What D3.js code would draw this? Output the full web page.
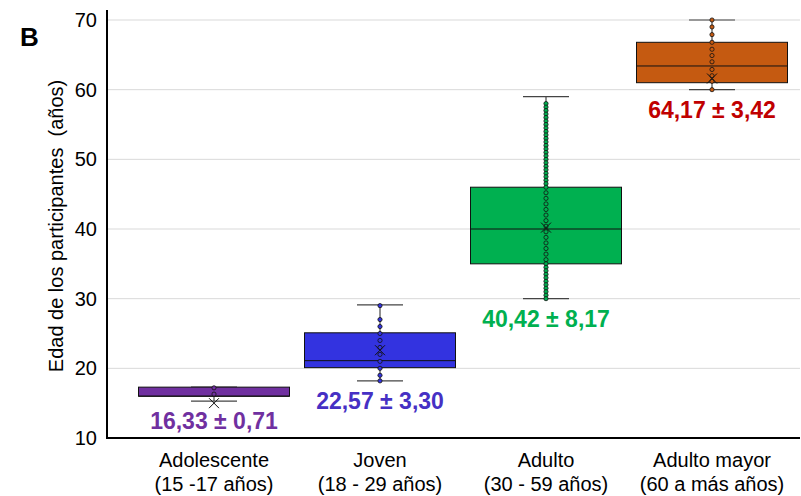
<!DOCTYPE html>
<html>
<head>
<meta charset="utf-8">
<script src="https://cdn.jsdelivr.net/npm/d3@7"></script>
<style>
  body { margin: 0; background: #fff; }
  text { font-family: "Liberation Sans", Arial, sans-serif; }
</style>
</head>
<body>
<div id="chart"></div>
<script>
// categories and box statistics
const categories = ["Adolescente", "Joven", "Adulto", "Adulto mayor"];
const ageRanges = ["(15 -17 años)", "(18 - 29 años)", "(30 - 59 años)", "(60 a más años)"];
const boxColors = ["#7030a0", "#3333e0", "#00b050", "#c55a11"];
const labelColors = ["#7030a0", "#4630c4", "#00b050", "#c00000"];
const q1 = [16, 20.1, 35, 61];
const medians = [16, 21.1, 40, 63.4];
const q3 = [17.3, 25.1, 46, 66.8];
const whiskerLow = [15.3, 18.2, 30, 60];
const whiskerHigh = [17.3, 29.1, 59, 70];
const meanMarks = [15, 22.6, 40.2, 61.6];
const meanLabels = ["16,33 ± 0,71", "22,57 ± 3,30", "40,42 ± 8,17", "64,17 ± 3,42"];
const points = [
    [17.2, 16.3],
    [29, 27, 26, 25, 24, 23, 22, 21, 20, 19, 18.2],
    [58, 57.5, 57, 56.5, 56, 55.5, 55, 54.5, 54, 53.5, 53, 52.5, 52, 51.5, 51, 50.5,
     50, 49.5, 49, 48.5, 48, 47.5, 47, 46.5, 46, 45.2, 44.4, 43.6, 42.8, 42, 41.2, 40.4,
     39.6, 38.8, 38, 37.2, 36.4, 35.6, 35, 34.5, 34, 33.5, 33, 32.5, 32, 31.5, 31, 30.5, 30],
    [70, 69, 67.9, 66.8, 65.8, 64.9, 64, 62.9, 62, 61.2, 60]
];
const yTicks = [10, 20, 30, 40, 50, 60, 70];

const chartW = 801, chartH = 496;
const plot = {left: 107, right: 800, top: 10, bottom: 438};
const boxWidth = 151, capWidth = 46;

const svg = d3.select("#chart")
    .append("svg")
    .attr("width", chartW)
    .attr("height", chartH);

const x = d3.scalePoint()
    .domain(categories)
    .range([131, 795])
    .padding(0.5);

const y = d3.scaleLinear()
    .domain([10, 70])
    .range([plot.bottom, 20]);

// gridlines
svg.append("g")
    .selectAll("line")
    .data(yTicks.filter(d => d > 10))
    .enter().append("line")
    .attr("x1", plot.left).attr("x2", plot.right)
    .attr("y1", d => y(d)).attr("y2", d => y(d))
    .attr("stroke", "#d9d9d9")
    .attr("stroke-width", 1);

// y axis
const yAxis = svg.append("g")
    .attr("transform", `translate(${plot.left},0)`)
    .call(d3.axisLeft(y).tickValues(yTicks).tickSize(0).tickPadding(10));
yAxis.select(".domain").remove();
yAxis.selectAll("text")
    .style("font-size", "20px")
    .style("font-family", "'Liberation Sans', Arial, sans-serif")
    .attr("fill", "#000");

svg.append("line")
    .attr("x1", plot.left).attr("x2", plot.left)
    .attr("y1", plot.top).attr("y2", plot.bottom + 1)
    .attr("stroke", "#000").attr("stroke-width", 2);
svg.append("line")
    .attr("x1", plot.left - 1).attr("x2", plot.right)
    .attr("y1", plot.bottom).attr("y2", plot.bottom)
    .attr("stroke", "#000").attr("stroke-width", 2);

// y title
svg.append("text")
    .attr("transform", `translate(56,${(75 + 377) / 2}) rotate(-90)`)
    .attr("text-anchor", "middle")
    .attr("dy", "0.35em")
    .style("font-size", "20px")
    .style("white-space", "pre")
    .text("Edad de los participantes  (años)");

// panel letter
svg.append("text")
    .attr("x", 20).attr("y", 46)
    .style("font-size", "26px")
    .style("font-weight", "bold")
    .text("B");

// x labels
categories.forEach(function (c, i) {
    svg.append("text")
        .attr("x", x(c)).attr("y", 467)
        .attr("text-anchor", "middle")
        .style("font-size", "20px")
        .text(c);
    svg.append("text")
        .attr("x", x(c)).attr("y", 491)
        .attr("text-anchor", "middle")
        .style("font-size", "20px")
        .text(ageRanges[i]);
});

// boxes
const groups = svg.selectAll("g.box")
    .data(categories)
    .enter().append("g")
    .attr("class", "box");

groups.append("line")
    .attr("x1", d => x(d)).attr("x2", d => x(d))
    .attr("y1", (d, i) => y(whiskerHigh[i])).attr("y2", (d, i) => y(q3[i]))
    .attr("stroke", "#222").attr("stroke-width", 1);
groups.append("line")
    .attr("x1", d => x(d)).attr("x2", d => x(d))
    .attr("y1", (d, i) => y(whiskerLow[i])).attr("y2", (d, i) => y(q1[i]))
    .attr("stroke", "#222").attr("stroke-width", 1);
groups.append("line")
    .attr("x1", d => x(d) - capWidth / 2).attr("x2", d => x(d) + capWidth / 2)
    .attr("y1", (d, i) => y(whiskerHigh[i])).attr("y2", (d, i) => y(whiskerHigh[i]))
    .attr("stroke", "#444").attr("stroke-width", 1.2);
groups.append("line")
    .attr("x1", d => x(d) - capWidth / 2).attr("x2", d => x(d) + capWidth / 2)
    .attr("y1", (d, i) => y(whiskerLow[i])).attr("y2", (d, i) => y(whiskerLow[i]))
    .attr("stroke", "#444").attr("stroke-width", 1.2);

groups.append("rect")
    .attr("x", d => x(d) - boxWidth / 2)
    .attr("width", boxWidth)
    .attr("y", (d, i) => y(q3[i]))
    .attr("height", (d, i) => y(q1[i]) - y(q3[i]))
    .attr("fill", (d, i) => boxColors[i])
    .attr("stroke", "#111").attr("stroke-width", 1);

groups.append("line")
    .attr("x1", d => x(d) - boxWidth / 2).attr("x2", d => x(d) + boxWidth / 2)
    .attr("y1", (d, i) => y(medians[i])).attr("y2", (d, i) => y(medians[i]))
    .attr("stroke", "#111").attr("stroke-width", 1);

// inner points
groups.each(function (d, i) {
    d3.select(this).selectAll("circle")
        .data(points[i])
        .enter().append("circle")
        .attr("cx", x(d))
        .attr("cy", v => y(v))
        .attr("r", 2.1)
        .attr("fill", boxColors[i])
        .attr("stroke", "#111")
        .attr("stroke-width", 0.8);
});

// mean markers
const m = 5;
groups.append("path")
    .attr("d", (d, i) => {
        const cx = x(d), cy = y(meanMarks[i]);
        return `M${cx - m},${cy - m}L${cx + m},${cy + m}M${cx - m},${cy + m}L${cx + m},${cy - m}`;
    })
    .attr("stroke", "#111").attr("stroke-width", 1);

// mean ± sd labels
groups.append("text")
    .attr("x", d => x(d))
    .attr("y", (d, i) => y(whiskerLow[i]) + 28)
    .attr("text-anchor", "middle")
    .style("font-size", "23px")
    .style("font-weight", "bold")
    .attr("fill", (d, i) => labelColors[i])
    .text((d, i) => meanLabels[i]);
</script>
</body>
</html>
